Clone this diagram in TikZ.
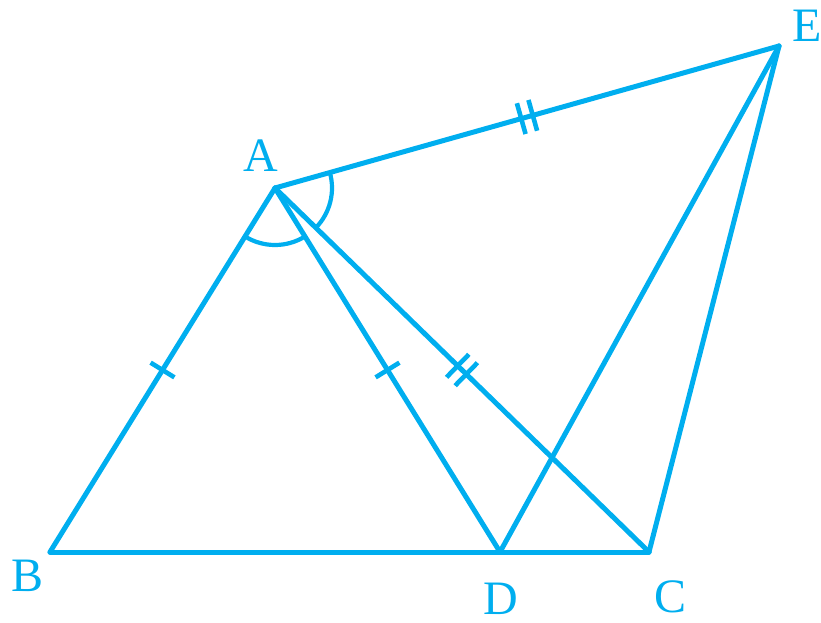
\documentclass[tikz,border=0pt]{standalone}
\usepackage{fontspec}
\setmainfont{Liberation Serif}
\usetikzlibrary{calc,angles}
\definecolor{geo}{RGB}{0,174,239}
\begin{document}
\begin{tikzpicture}[x=1pt,y=1pt,
  edge/.style={draw=geo,line width=5pt,line cap=round,line join=round},
  tickmark/.style={draw=geo,line width=4.6pt},
  anglemark/.style={draw=geo,line width=4.2pt},
  lbl/.style={text=geo,inner sep=0pt,font=\fontsize{48}{48}\selectfont}]
\useasboundingbox (0,0) rectangle (821,-623);
\coordinate (A) at (275,-188);
\coordinate (B) at (50,-552);
\coordinate (D) at (500,-552);
\coordinate (C) at (649,-552);
\coordinate (E) at (779,-46);
% sides
\draw[edge] (B) -- (C);
\draw[edge] (A) -- (B);
\draw[edge] (A) -- (D);
\draw[edge] (A) -- (C);
\draw[edge] (A) -- (E);
\draw[edge] (D) -- (E);
\draw[edge] (C) -- (E);
% angle arcs
\pic[anglemark,angle radius=57pt] {angle=B--A--D};
\pic[anglemark,angle radius=57pt] {angle=C--A--E};
% single ticks
\coordinate (mAB) at ($(A)!0.5!(B)$);
\coordinate (mAD) at ($(A)!0.5!(D)$);
\draw[tickmark] ($(mAB)!14pt!90:(B)$) -- ($(mAB)!14pt!-90:(B)$);
\draw[tickmark] ($(mAD)!14pt!90:(D)$) -- ($(mAD)!14pt!-90:(D)$);
% double ticks
\coordinate (mAC) at ($(A)!0.5!(C)$);
\coordinate (mAC1) at ($(mAC)!6pt!(C)$);
\coordinate (mAC2) at ($(mAC)!6pt!(A)$);
\draw[tickmark] ($(mAC1)!16pt!90:(C)$) -- ($(mAC1)!16pt!-90:(C)$);
\draw[tickmark] ($(mAC2)!16pt!90:(C)$) -- ($(mAC2)!16pt!-90:(C)$);
\coordinate (mAE) at ($(A)!0.5!(E)$);
\coordinate (mAE1) at ($(mAE)!6pt!(E)$);
\coordinate (mAE2) at ($(mAE)!6pt!(A)$);
\draw[tickmark] ($(mAE1)!16pt!90:(E)$) -- ($(mAE1)!16pt!-90:(E)$);
\draw[tickmark] ($(mAE2)!16pt!90:(E)$) -- ($(mAE2)!16pt!-90:(E)$);
% labels
\node[lbl] (lA) at (261,-156) {A};
\node[lbl] (lB) at (28,-576) {B};
\node[lbl] (lD) at (501,-599) {D};
\node[lbl] (lC) at (670,-597) {C};
\node[lbl] (lE) at (807,-26) {E};
\end{tikzpicture}
\end{document}
